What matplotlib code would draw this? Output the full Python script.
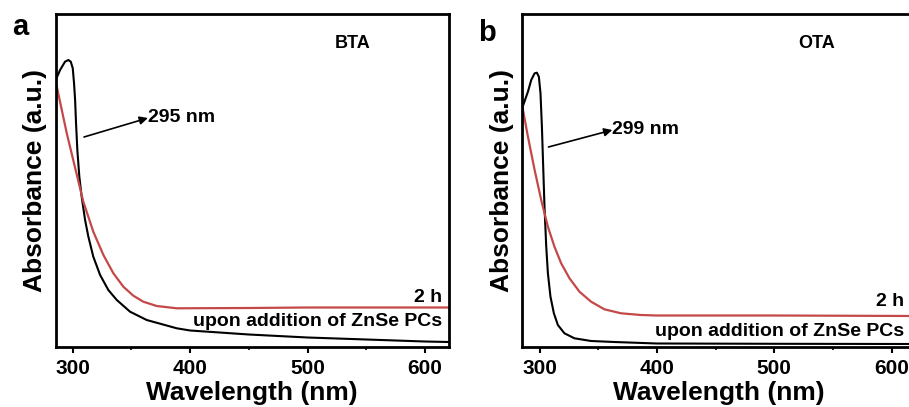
import matplotlib
matplotlib.use("Agg")
import matplotlib.pyplot as plt

plt.rcParams["font.family"] = ["Liberation Sans", "DejaVu Sans"]
plt.rcParams["font.weight"] = "bold"

# panel a (BTA)
wl_a_black = [285.5, 289.2, 293.4, 296.3, 298.3, 300, 301.1, 302, 302.8, 303.9, 305.6,
              307.6, 310.5, 313.3, 317.5, 323.3, 330.3, 337.5, 348.8, 363, 388.6,
              400, 450, 500, 550, 600, 620]
abs_a_black = [2.665, 2.765, 2.848, 2.865, 2.848, 2.782, 2.632, 2.465, 2.232, 1.965, 1.698,
               1.498, 1.265, 1.098, 0.898, 0.715, 0.565, 0.465, 0.348, 0.265, 0.182,
               0.16, 0.12, 0.09, 0.07, 0.05, 0.045]
wl_a_red = [285.5, 294.9, 309.0, 317.5, 326.1, 334.6, 343.1, 351.6, 360.1, 371.5, 388.6,
            450, 500, 550, 620]
abs_a_red = [2.648, 2.132, 1.448, 1.148, 0.915, 0.732, 0.598, 0.508, 0.448, 0.405, 0.382,
             0.385, 0.39, 0.39, 0.39]

# panel b (OTA)
wl_b_black = [285.6, 290.1, 292.9, 295.8, 297.7, 299.4, 300.8, 302, 303.1, 304.2, 305.7,
              307.1, 309.3, 312.2, 315.6, 321.2, 329.7, 343.9, 363.7, 400, 500, 620]
abs_b_black = [2.398, 2.548, 2.665, 2.732, 2.738, 2.698, 2.532, 2.198, 1.798, 1.398, 0.998,
               0.732, 0.498, 0.332, 0.215, 0.132, 0.082, 0.055, 0.045, 0.03, 0.027, 0.025]
wl_b_red = [285.6, 290.1, 295.8, 301.4, 307.1, 312.7, 318.4, 325.5, 334, 343.9, 355.2,
            369.4, 386.3, 400, 500, 620]
abs_b_red = [2.382, 2.098, 1.765, 1.465, 1.198, 0.998, 0.832, 0.682, 0.548, 0.448, 0.372,
             0.332, 0.315, 0.31, 0.31, 0.305]

panels = [
    dict(label="a", name="BTA", peak="295 nm",
         black=(wl_a_black, abs_a_black), red=(wl_a_red, abs_a_red),
         name_xy=(538, 3.035), peak_xy=(364, 2.285), arrow_from=(309.6, 2.095),
         h2_y=0.495, upon_y=0.245, text_x=614.6, left=55.5, lab_xy=(20, 35)),
    dict(label="b", name="OTA", peak="299 nm",
         black=(wl_b_black, abs_b_black), red=(wl_b_red, abs_b_red),
         name_xy=(536, 3.035), peak_xy=(362, 2.165), arrow_from=(307.6, 1.995),
         h2_y=0.445, upon_y=0.148, text_x=610.7, left=522.3, lab_xy=(487, 41)),
]

W, H = 909, 407
fig = plt.figure(figsize=(W / 100, H / 100), dpi=100)
red = "#c44848"

for p in panels:
    ax = fig.add_axes([p["left"] / W, (H - 346.5) / H, 393.5 / W, 332.5 / H])
    ax.plot(*p["black"], color="black", lw=1.5)
    ax.plot(*p["red"], color=red, lw=1.6)
    ax.set_xlim(285.3, 620.5)
    ax.set_ylim(0, 3.325)
    ax.set_xticks([300, 400, 500, 600])
    ax.set_xticks([350, 450, 550], minor=True)
    ax.set_yticks([])
    ax.tick_params(axis="x", which="major", direction="out", length=4, width=1.5,
                   labelsize=15, pad=5)
    ax.tick_params(axis="x", which="minor", direction="out", length=2.5, width=1.2)
    for s in ax.spines.values():
        s.set_linewidth(2)
    ax.set_xlabel("Wavelength (nm)", fontsize=19, fontweight="bold", labelpad=2)
    ax.set_ylabel("Absorbance (a.u.)", fontsize=19, fontweight="bold", labelpad=6)
    for t in ax.get_xticklabels():
        t.set_fontweight("bold")

    ax.text(*p["name_xy"], p["name"], fontsize=13, fontweight="bold",
            ha="center", va="center")
    ax.annotate("", xy=p["peak_xy"], xytext=p["arrow_from"],
                arrowprops=dict(arrowstyle="-|>", color="black", lw=1.2,
                                mutation_scale=12, shrinkA=0, shrinkB=0))
    ax.text(p["peak_xy"][0], p["peak_xy"][1], p["peak"], fontsize=14,
            fontweight="bold", ha="left", va="center")
    ax.text(p["text_x"], p["h2_y"], "2 h", fontsize=14, fontweight="bold",
            ha="right", va="center")
    ax.text(p["text_x"], p["upon_y"], "upon addition of ZnSe PCs", fontsize=14,
            fontweight="bold", ha="right", va="center")

    fig.text(p["lab_xy"][0] / W, 1 - p["lab_xy"][1] / H, p["label"], fontsize=21,
             fontweight="bold", ha="center", va="baseline")

fig.savefig("out.png", dpi=100)
